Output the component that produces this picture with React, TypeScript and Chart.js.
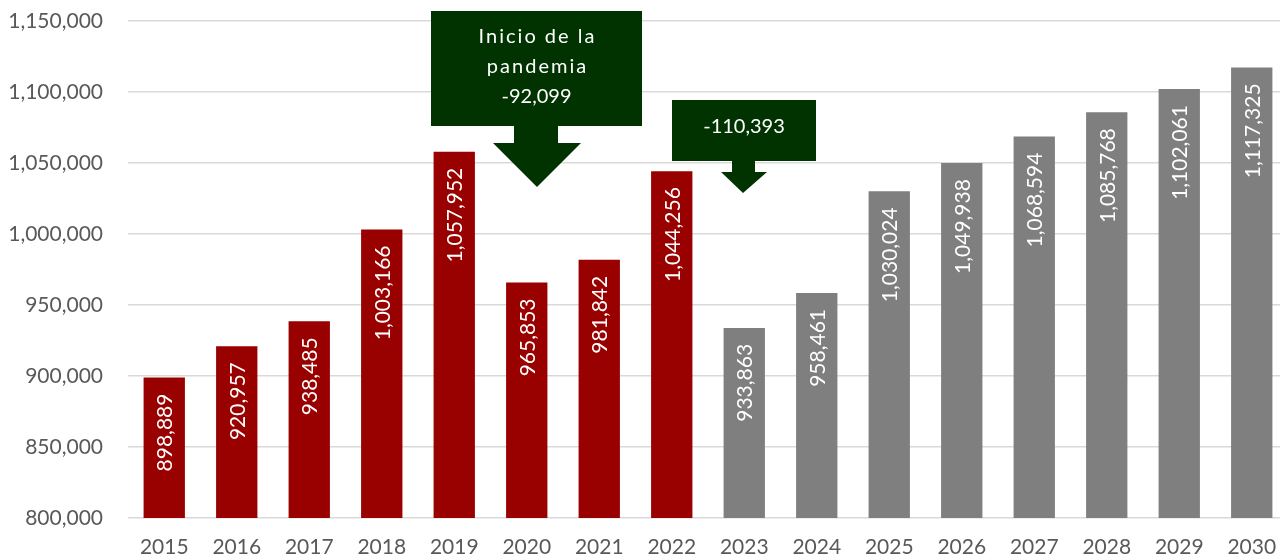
import React, { useEffect, useRef } from "react";
import { Chart, registerables } from "chart.js";

Chart.register(...registerables);

const years = ["2015","2016","2017","2018","2019","2020","2021","2022","2023","2024","2025","2026","2027","2028","2029","2030"];
const values = [898889, 920957, 938485, 1003166, 1057952, 965853, 981842, 1044256, 933863, 958461, 1030024, 1049938, 1068594, 1085768, 1102061, 1117325];
const historicalCount = 8;
const yTicks = [800000, 850000, 900000, 950000, 1000000, 1050000, 1100000, 1150000];
const callout1Lines = ["Inicio de la", "pandemia", "-92,099"];
const callout2Lines = ["-110,393"];

const RED = "#990000";
const GRAY = "#7f7f7f";
const GREEN = "#003300";
const FONT = "Lato";

const fmt = (v: number) => v.toLocaleString("en-US");

const labelsPlugin = {
  id: "barLabels",
  afterDatasetsDraw(chart: any) {
    const ctx = chart.ctx;
    const meta = chart.getDatasetMeta(0);
    ctx.save();
    ctx.fillStyle = "#ffffff";
    ctx.font = `21px ${FONT}`;
    ctx.textAlign = "right";
    ctx.textBaseline = "middle";
    meta.data.forEach((bar: any, i: number) => {
      ctx.save();
      ctx.translate(bar.x + 1, bar.y + 16);
      ctx.rotate(-Math.PI / 2);
      ctx.fillText(fmt(values[i]), 0, 0);
      ctx.restore();
    });
    ctx.restore();
  },
};

function drawCallout(ctx: any, box: any, stem: any, head: any, lines: string[], spacings: number[], baselines: number[]) {
  ctx.save();
  ctx.fillStyle = GREEN;
  ctx.fillRect(box.x1, box.y1, box.x2 - box.x1, box.y2 - box.y1);
  ctx.beginPath();
  ctx.moveTo(stem.x1, box.y2 - 1);
  ctx.lineTo(stem.x2, box.y2 - 1);
  ctx.lineTo(stem.x2, stem.y2);
  ctx.lineTo(head.x2, stem.y2);
  ctx.lineTo(head.tx, head.ty);
  ctx.lineTo(head.x1, stem.y2);
  ctx.lineTo(stem.x1, stem.y2);
  ctx.closePath();
  ctx.fill();
  ctx.fillStyle = "#ffffff";
  ctx.font = `20px ${FONT}`;
  ctx.textAlign = "center";
  ctx.textBaseline = "alphabetic";
  const cx = (box.x1 + box.x2) / 2;
  lines.forEach((t, i) => {
    (ctx as any).letterSpacing = `${spacings[i]}px`;
    ctx.fillText(t, cx + spacings[i] / 2, baselines[i]);
  });
  (ctx as any).letterSpacing = "0px";
  ctx.restore();
}

const calloutPlugin = {
  id: "callouts",
  afterDraw(chart: any) {
    const ctx = chart.ctx;
    drawCallout(
      ctx,
      { x1: 431, y1: 11, x2: 642, y2: 126 },
      { x1: 514, x2: 558, y2: 143 },
      { x1: 493, x2: 581, tx: 537, ty: 187 },
      callout1Lines,
      [2, 2, 0],
      [43, 73, 103]
    );
    drawCallout(
      ctx,
      { x1: 672, y1: 100, x2: 816, y2: 161 },
      { x1: 732, x2: 755, y2: 172 },
      { x1: 721, x2: 767, tx: 743, ty: 193 },
      callout2Lines,
      [0],
      [133]
    );
  },
};

export default function App() {
  const ref = useRef<HTMLCanvasElement>(null);
  useEffect(() => {
    if (!ref.current) return;
    const chart = new Chart(ref.current, {
      type: "bar",
      data: {
        labels: years,
        datasets: [
          {
            data: values,
            backgroundColor: values.map((_, i) => (i < historicalCount ? RED : GRAY)),
            categoryPercentage: 1,
            barPercentage: 0.57,
          },
        ],
      },
      options: {
        animation: false,
        responsive: false,
        maintainAspectRatio: false,
        layout: { padding: { top: 21, right: 2, left: 0, bottom: 0 } },
        plugins: { legend: { display: false }, tooltip: { enabled: false } },
        scales: {
          x: {
            grid: { display: false, drawTicks: false },
            border: { display: false },
            ticks: { color: "#595959", font: { family: FONT, size: 21 }, padding: 17, maxRotation: 0, autoSkip: false },
            afterFit: (s: any) => { s.height = 40; s.paddingLeft = 0; s.paddingRight = 0; },
          },
          y: {
            min: 800000,
            max: 1150000,
            afterBuildTicks: (s: any) => { s.ticks = yTicks.map((v) => ({ value: v })); },
            grid: { color: "#d9d9d9", lineWidth: 1.5, drawTicks: false },
            border: { display: false },
            ticks: {
              color: "#595959",
              font: { family: FONT, size: 21 },
              padding: 25,
              callback: (v: any) => fmt(Number(v)),
            },
            afterFit: (s: any) => { s.width = 128; s.paddingTop = 0; s.paddingBottom = 0; },
          },
        },
      },
      plugins: [labelsPlugin, calloutPlugin],
    });
    return () => chart.destroy();
  }, []);
  return (
    <div style={{ position: "fixed", left: 0, top: 0, width: 1290, height: 558, overflow: "hidden", background: "#fff" }}>
      <canvas ref={ref} width={1290} height={558} style={{ display: "block" }} />
    </div>
  );
}
